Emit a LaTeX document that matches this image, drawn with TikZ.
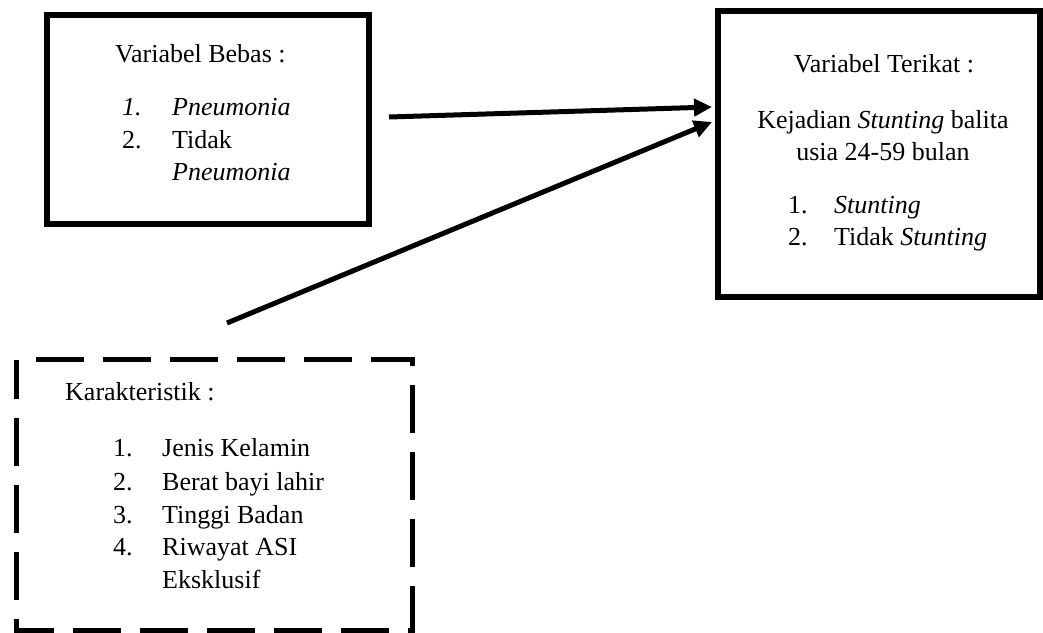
\documentclass[tikz,border=0pt]{standalone}
\usepackage{fontspec}
\setmainfont{Liberation Serif}
\usetikzlibrary{arrows.meta}
\tikzset{
  solidbox/.style={draw=black, line width=6pt, minimum width=322pt, inner sep=0pt},
  dashbox/.style={draw=black, line width=5pt, dash pattern=on 48pt off 19pt, dash phase=48pt},
  txt/.style={inner sep=0pt, anchor=base west, font=\fontsize{26}{33}\selectfont},
  ctxt/.style={inner sep=0pt, anchor=base, font=\fontsize{26}{33}\selectfont},
  arr/.style={line width=5pt, -{Triangle[length=18pt,width=17pt]}}
}
\begin{document}
\begin{tikzpicture}[x=1pt,y=-1pt]
\useasboundingbox (0,0) rectangle (1043,632);
% boxes
\node[solidbox, minimum height=209pt] (bebas) at (208,119.5) {};
\node[solidbox, minimum height=286pt] (terikat) at (879,154) {};
\node[inner sep=0pt, minimum width=395pt, minimum height=270pt] (karak) at (214.5,495) {};
\draw[dashbox] (karak.north west) -- (karak.north east) -- (karak.south east) -- (karak.south west) -- cycle;
% box 1 text
\node[txt] (b0) at (115,62) {Variabel Bebas :};
\node[txt] (b1n) at (122,115) {\textit{1.}};
\node[txt] (b1) at (172,115) {\textit{Pneumonia}};
\node[txt] (b2n) at (122,148) {2.};
\node[txt] (b2) at (172,148) {Tidak};
\node[txt] (b3) at (172,180) {\textit{Pneumonia}};
% box 2 text
\node[ctxt] (t0) at (884,72) {Variabel Terikat :};
\node[ctxt] (t1) at (883,128) {Kejadian \textit{Stunting} balita};
\node[ctxt] (t2) at (883,160) {usia 24-59 bulan};
\node[txt] (t3n) at (788,213) {1.};
\node[txt] (t3) at (834,213) {\textit{Stunting}};
\node[txt] (t4n) at (788,245) {2.};
\node[txt] (t4) at (834,245) {Tidak \textit{Stunting}};
% box 3 text
\node[txt] (k0) at (65,400) {Karakteristik :};
\node[txt] (k1n) at (113,456) {1.};
\node[txt] (k1) at (162,456) {Jenis Kelamin};
\node[txt] (k2n) at (113,490) {2.};
\node[txt] (k2) at (162,490) {Berat bayi lahir};
\node[txt] (k3n) at (113,523) {3.};
\node[txt] (k3) at (162,523) {Tinggi Badan};
\node[txt] (k4n) at (113,555) {4.};
\node[txt] (k4) at (162,555) {Riwayat ASI};
\node[txt] (k5) at (162,588) {Eksklusif};
% arrows
\coordinate (a1s) at (389,117);
\coordinate (a1e) at (712,107);
\coordinate (a2s) at (227,323);
\coordinate (a2e) at (712,122);
\draw[arr] (a1s) -- (a1e);
\draw[arr] (a2s) -- (a2e);
\end{tikzpicture}
\end{document}
